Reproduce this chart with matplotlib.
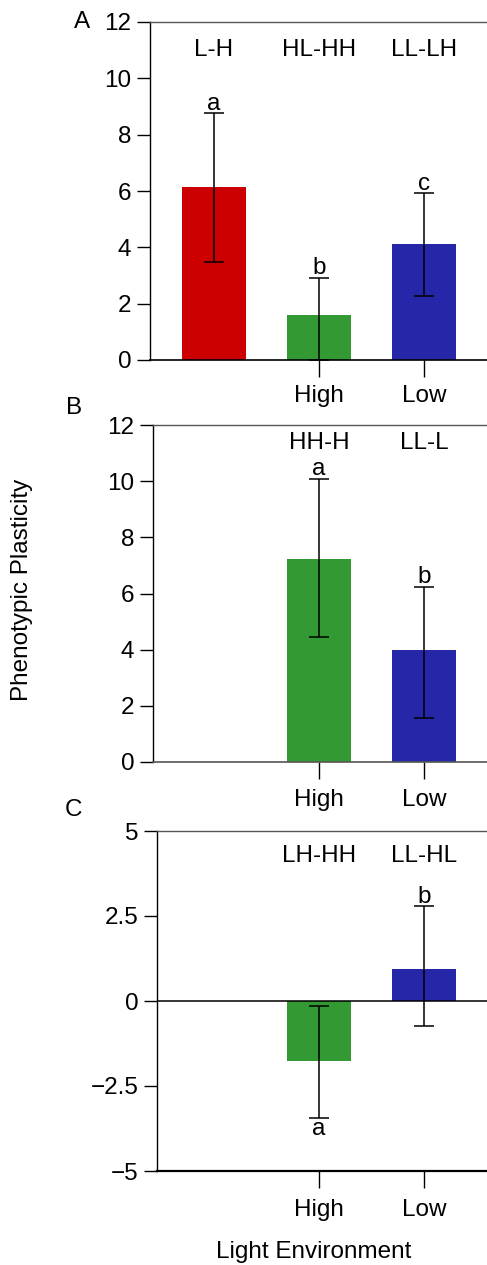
import matplotlib
matplotlib.use("Agg")
import matplotlib.pyplot as plt

plt.rcParams['font.family'] = ['Liberation Sans', 'DejaVu Sans']

# ---- data ----
a_pos = [1, 2, 3]
a_groups = ["L-H", "HL-HH", "LL-LH"]
a_means = [6.14, 1.60, 4.11]
a_err_low = [2.67, 1.60, 1.84]
a_err_high = [2.62, 1.31, 1.81]
a_letters = ["a", "b", "c"]

b_pos = [2, 3]
b_groups = ["HH-H", "LL-L"]
b_means = [7.23, 3.99]
b_err_low = [2.78, 2.42]
b_err_high = [2.85, 2.24]
b_letters = ["a", "b"]

c_pos = [2, 3]
c_groups = ["LH-HH", "LL-HL"]
c_means = [-1.76, 0.94]
c_err_low = [1.68, 1.68]
c_err_high = [1.60, 1.85]
c_letters = ["a", "b"]

env_ticks = [2, 3]
env_labels = ["High", "Low"]

RED = "#CC0000"
GREEN = "#339933"
BLUE = "#2626A8"
FS = 17.5

W, H = 487, 1265
fig = plt.figure(figsize=(W / 100, H / 100), dpi=100)

def make_ax(left_px, top_px, bottom_px):
    return fig.add_axes([left_px / W, 1 - bottom_px / H, (W - left_px) / W,
                         (bottom_px - top_px) / H])

def style(ax, left_px, ylim, yticks, yticklabels, xpad):
    ax.set_xlim(1 - (214 - left_px) / 105, 3 + (W - 424) / 105)
    ax.set_ylim(*ylim)
    ax.set_yticks(yticks)
    ax.set_yticklabels(yticklabels)
    ax.set_xticks(env_ticks)
    ax.set_xticklabels(env_labels)
    ax.spines['right'].set_visible(False)
    ax.spines['top'].set_color('#555555')
    ax.spines['top'].set_linewidth(1.0)
    ax.spines['left'].set_linewidth(1.0)
    ax.spines['bottom'].set_linewidth(1.2)
    ax.tick_params(axis='y', length=9.5, width=1.0, pad=4, labelsize=FS)
    ax.tick_params(axis='x', length=12, width=1.0, pad=xpad, labelsize=FS)

def draw(ax, pos, means, elo, ehi, colors):
    ax.bar(pos, means, width=0.61, color=colors, edgecolor='none', zorder=2)
    ax.errorbar(pos, means, yerr=[elo, ehi], fmt='none', ecolor='black',
                elinewidth=1.1, capsize=7.5, capthick=1.1, zorder=3)

# Panel A
axA = make_ax(150, 22, 360)
draw(axA, a_pos, a_means, a_err_low, a_err_high, [RED, GREEN, BLUE])
style(axA, 150, (0, 12), [0, 2, 4, 6, 8, 10, 12], ["0", "2", "4", "6", "8", "10", "12"], 6)
for p, g in zip(a_pos, a_groups):
    axA.text(p, 10.79, g, ha='center', va='baseline', fontsize=FS)
for p, m, e, l in zip(a_pos, a_means, a_err_high, a_letters):
    axA.annotate(l, (p, m + e), xytext=(0, -1), textcoords='offset points',
                 ha='center', va='bottom', fontsize=FS)

# Panel B
axB = make_ax(153, 425, 762)
draw(axB, b_pos, b_means, b_err_low, b_err_high, [GREEN, BLUE])
style(axB, 153, (0, 12), [0, 2, 4, 6, 8, 10, 12], ["0", "2", "4", "6", "8", "10", "12"], 7.5)
axB.spines['bottom'].set_color('#555555')
for p, g in zip(b_pos, b_groups):
    axB.text(p, 11.15, g, ha='center', va='baseline', fontsize=FS)
for p, m, e, l in zip(b_pos, b_means, b_err_high, b_letters):
    axB.annotate(l, (p, m + e), xytext=(0, -1), textcoords='offset points',
                 ha='center', va='bottom', fontsize=FS)

# Panel C
axC = make_ax(157, 831, 1171)
draw(axC, c_pos, c_means, c_err_low, c_err_high, [GREEN, BLUE])
style(axC, 157, (-5, 5), [-5, -2.5, 0, 2.5, 5], ["\u22125", "\u22122.5", "0", "2.5", "5"], 8)
axC.spines['bottom'].set_linewidth(1.6)
axC.axhline(0, color='black', lw=1.1, zorder=2.5)
for p, g in zip(c_pos, c_groups):
    axC.text(p, 4.09, g, ha='center', va='baseline', fontsize=FS)
for p, m, elo, ehi, l in zip(c_pos, c_means, c_err_low, c_err_high, c_letters):
    if m < 0:
        axC.annotate(l, (p, m - elo), xytext=(0, 0), textcoords='offset points',
                     ha='center', va='top', fontsize=FS)
    else:
        axC.annotate(l, (p, m + ehi), xytext=(0, -1), textcoords='offset points',
                     ha='center', va='bottom', fontsize=FS)

# panel letters and axis labels
fig.text(82 / W, 1 - 22 / H, "A", ha='center', va='center', fontsize=FS)
fig.text(74 / W, 1 - 408 / H, "B", ha='center', va='center', fontsize=FS)
fig.text(74 / W, 1 - 810 / H, "C", ha='center', va='center', fontsize=FS)
fig.text(22 / W, 1 - 590 / H, "Phenotypic Plasticity", rotation=90,
         ha='center', va='center', fontsize=FS)
fig.text(314 / W, 1 - 1252 / H, "Light Environment", ha='center', va='center',
         fontsize=FS)

fig.savefig("out.png", dpi=100)
